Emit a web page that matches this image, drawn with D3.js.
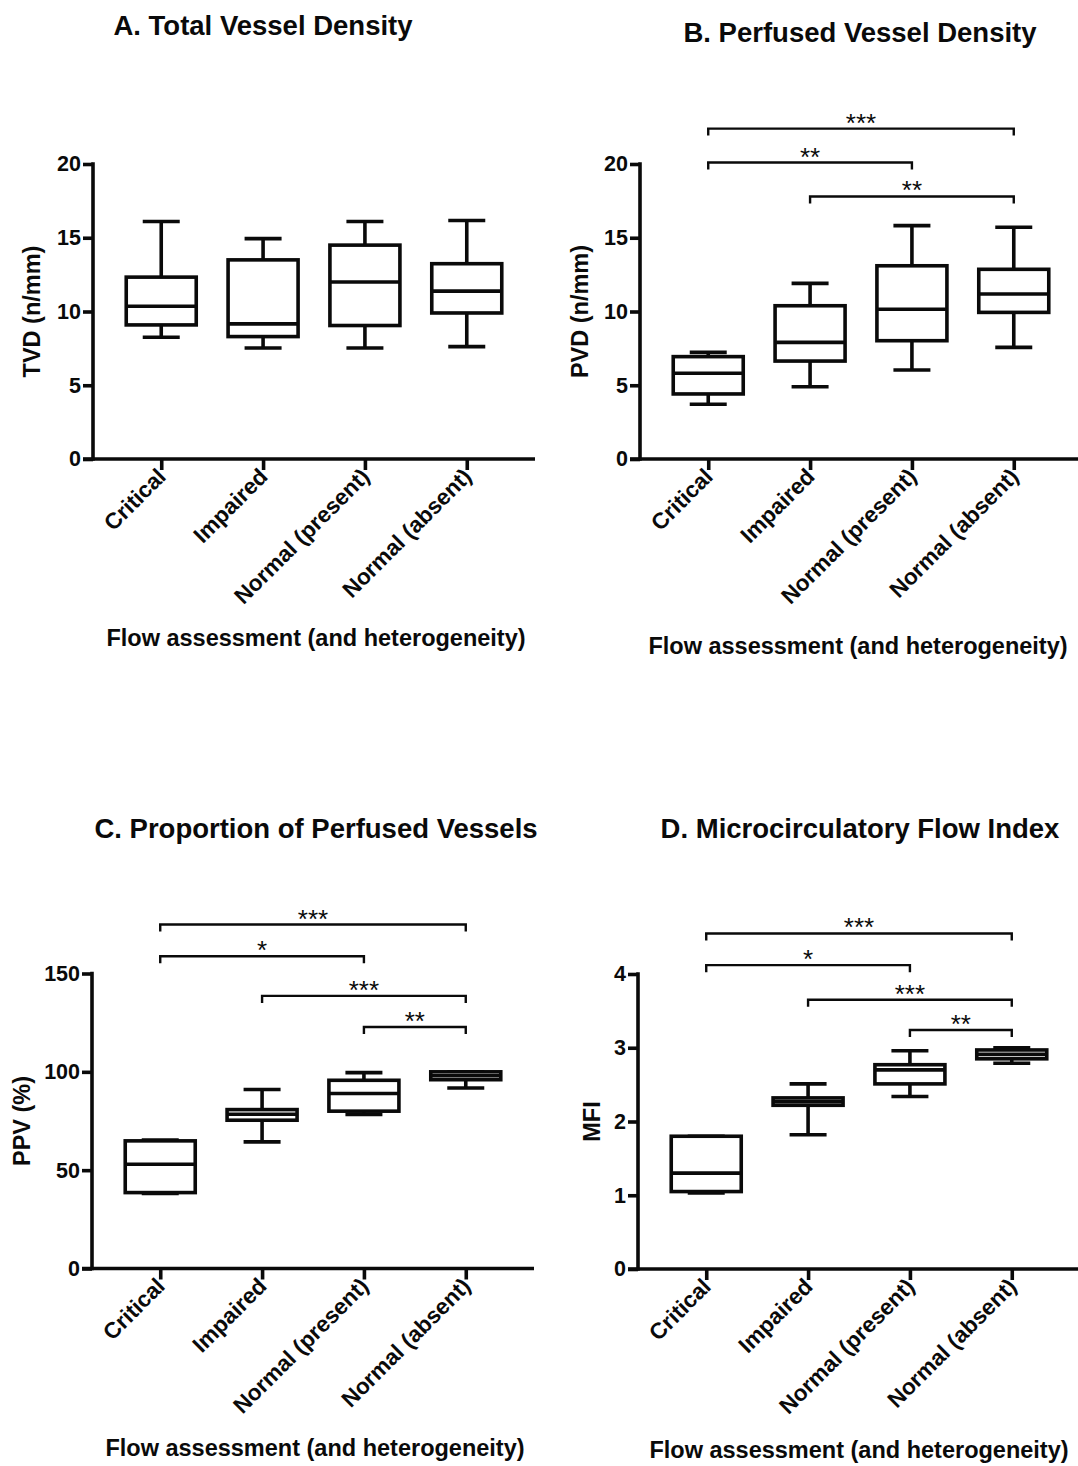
<!DOCTYPE html>
<html>
<head>
<meta charset="utf-8">
<script src="https://cdn.jsdelivr.net/npm/d3@7/dist/d3.min.js"></script>
<style>
  html, body { margin: 0; padding: 0; background: #fff; }
  svg { display: block; font-family: "Liberation Sans", Arial, sans-serif; }
</style>
</head>
<body>
<svg id="chart" width="1078" height="1466"></svg>
<script>
// ---------------- DATA ----------------
const categories = ["Critical", "Impaired", "Normal (present)", "Normal (absent)"];

// [min, Q1, median, Q3, max] per category
const tvdStats = [
  [8.25, 9.09, 10.36, 12.33, 16.1],
  [7.53, 8.3, 9.16, 13.5, 14.94],
  [7.53, 9.05, 12.0, 14.5, 16.1],
  [7.62, 9.9, 11.38, 13.24, 16.17]
];
const pvdStats = [
  [3.71, 4.41, 5.81, 6.94, 7.23],
  [4.9, 6.64, 7.91, 10.39, 11.91],
  [6.03, 8.02, 10.15, 13.1, 15.82],
  [7.57, 9.94, 11.19, 12.86, 15.71]
];
const ppvStats = [
  [38.2, 38.6, 53.0, 64.9, 65.3],
  [64.4, 75.4, 78.4, 80.8, 91.0],
  [78.3, 80.0, 89.0, 95.7, 99.6],
  [91.8, 96.0, 98.0, 100.0, 100.0]
];
const mfiStats = [
  [1.03, 1.05, 1.30, 1.80, 1.80],
  [1.82, 2.22, 2.27, 2.32, 2.51],
  [2.34, 2.51, 2.70, 2.77, 2.96],
  [2.79, 2.85, 2.91, 2.97, 3.0]
];

const tvdTicks = [0, 5, 10, 15, 20];
const pvdTicks = [0, 5, 10, 15, 20];
const ppvTicks = [0, 50, 100, 150];
const mfiTicks = [0, 1, 2, 3, 4];

// significance brackets: [fromIndex, toIndex, level (data units), label]
const tvdSig = [];
const pvdSig = [
  [0, 3, 22.4, "***"],
  [0, 2, 20.1, "**"],
  [1, 3, 17.8, "**"]
];
const ppvSig = [
  [0, 3, 174.9, "***"],
  [0, 2, 158.8, "*"],
  [1, 3, 138.6, "***"],
  [2, 3, 122.8, "**"]
];
const mfiSig = [
  [0, 3, 4.55, "***"],
  [0, 2, 4.12, "*"],
  [1, 3, 3.65, "***"],
  [2, 3, 3.24, "**"]
];

const titles = ["A. Total Vessel Density", "B. Perfused Vessel Density",
                "C. Proportion of Perfused Vessels", "D. Microcirculatory Flow Index"];
const yLabels = ["TVD (n/mm)", "PVD (n/mm)", "PPV (%)", "MFI"];
const xLabel = "Flow assessment (and heterogeneity)";

// ---------------- LAYOUT ----------------
const panels = [
  { stats: tvdStats, ticks: tvdTicks, sig: tvdSig, max: 20,  title: titles[0], yLabel: yLabels[0],
    x0: 93,  yTop: 164,   yBot: 459,   titleX: 263, titleY: 35,  yLabX: 40,  xLabX: 316, xLabY: 646 },
  { stats: pvdStats, ticks: pvdTicks, sig: pvdSig, max: 20,  title: titles[1], yLabel: yLabels[1],
    x0: 640, yTop: 164,   yBot: 459,   titleX: 860, titleY: 42,  yLabX: 588, xLabX: 858, xLabY: 654 },
  { stats: ppvStats, ticks: ppvTicks, sig: ppvSig, max: 150, title: titles[2], yLabel: yLabels[2],
    x0: 92,  yTop: 973.5, yBot: 1268.5, titleX: 316, titleY: 838, yLabX: 30,  xLabX: 315, xLabY: 1456 },
  { stats: mfiStats, ticks: mfiTicks, sig: mfiSig, max: 4,   title: titles[3], yLabel: yLabels[3],
    x0: 638, yTop: 974,   yBot: 1269,  titleX: 860, titleY: 838, yLabX: 600, xLabX: 859, xLabY: 1458 }
];

const svg = d3.select("#chart");
const plotW = 442;
const boxW = 70, capW = 37;
const lw = 3.6;
const ink = "#0a0a0a";

panels.forEach(p => {
  const g = svg.append("g");
  const x = d3.scalePoint().domain(categories).range([p.x0, p.x0 + plotW]).padding(0.67);
  const y = d3.scaleLinear().domain([0, p.max]).range([p.yBot, p.yTop]);

  // title
  g.append("text").attr("x", p.titleX).attr("y", p.titleY)
    .attr("text-anchor", "middle").attr("font-size", 27.5).attr("font-weight", "bold")
    .attr("fill", ink).text(p.title);

  // y axis
  const yAxis = g.append("g").attr("transform", `translate(${p.x0},0)`)
    .call(d3.axisLeft(y).tickValues(p.ticks).tickFormat(d3.format("d"))
      .tickSize(10).tickPadding(2).tickSizeOuter(0));
  yAxis.select(".domain").remove();
  yAxis.selectAll(".tick line").attr("stroke", ink).attr("stroke-width", lw);
  yAxis.selectAll(".tick text").attr("font-size", 21.5).attr("font-weight", "bold")
    .attr("fill", ink).attr("font-family", "Liberation Sans, Arial, sans-serif");
  g.append("line").attr("x1", p.x0).attr("x2", p.x0)
    .attr("y1", p.yTop - lw / 2).attr("y2", p.yBot + lw / 2)
    .attr("stroke", ink).attr("stroke-width", lw);

  // x axis
  const xAxis = g.append("g").attr("transform", `translate(0,${p.yBot})`)
    .call(d3.axisBottom(x).tickSize(11).tickSizeOuter(0).tickFormat(""));
  xAxis.select(".domain").remove();
  xAxis.selectAll(".tick line").attr("stroke", ink).attr("stroke-width", lw);
  g.append("line").attr("x1", p.x0 - 10).attr("x2", p.x0 + plotW)
    .attr("y1", p.yBot).attr("y2", p.yBot)
    .attr("stroke", ink).attr("stroke-width", lw);

  // x tick labels rotated
  g.selectAll(".xlab").data(categories).enter().append("text")
    .attr("transform", d => `translate(${x(d) + 6},${p.yBot + 19}) rotate(-45)`)
    .attr("text-anchor", "end").attr("font-size", 22.5).attr("font-weight", "bold")
    .attr("fill", ink).text(d => d);

  // y label
  g.append("text").attr("transform", `translate(${p.yLabX},${(p.yTop + p.yBot) / 2}) rotate(-90)`)
    .attr("text-anchor", "middle").attr("font-size", 23.5).attr("font-weight", "bold")
    .attr("fill", ink).text(p.yLabel);

  // x label
  g.append("text").attr("x", p.xLabX).attr("y", p.xLabY)
    .attr("text-anchor", "middle").attr("font-size", 23.5).attr("font-weight", "bold")
    .attr("fill", ink).text(xLabel);

  // boxes
  const boxes = g.selectAll(".box").data(p.stats.map((s, i) => ({ s, c: categories[i] })))
    .enter().append("g");
  boxes.each(function (d) {
    const b = d3.select(this);
    const cx = x(d.c);
    const [mn, q1, md, q3, mx] = d.s;
    b.append("line").attr("x1", cx).attr("x2", cx).attr("y1", y(q3)).attr("y2", y(mx))
      .attr("stroke", ink).attr("stroke-width", lw);
    b.append("line").attr("x1", cx).attr("x2", cx).attr("y1", y(q1)).attr("y2", y(mn))
      .attr("stroke", ink).attr("stroke-width", lw);
    b.append("line").attr("x1", cx - capW / 2).attr("x2", cx + capW / 2).attr("y1", y(mx)).attr("y2", y(mx))
      .attr("stroke", ink).attr("stroke-width", lw);
    b.append("line").attr("x1", cx - capW / 2).attr("x2", cx + capW / 2).attr("y1", y(mn)).attr("y2", y(mn))
      .attr("stroke", ink).attr("stroke-width", lw);
    b.append("rect").attr("x", cx - boxW / 2).attr("width", boxW)
      .attr("y", y(q3)).attr("height", y(q1) - y(q3))
      .attr("fill", "#fff").attr("stroke", ink).attr("stroke-width", lw);
    b.append("line").attr("x1", cx - boxW / 2).attr("x2", cx + boxW / 2).attr("y1", y(md)).attr("y2", y(md))
      .attr("stroke", ink).attr("stroke-width", lw);
  });

  // significance brackets
  p.sig.forEach(([a, bI, lvl, lab]) => {
    const xa = x(categories[a]), xb = x(categories[bI]), yy = y(lvl);
    g.append("path")
      .attr("d", `M${xa},${yy + 7}V${yy}H${xb}V${yy + 7}`)
      .attr("fill", "none").attr("stroke", ink).attr("stroke-width", 2.4);
    g.append("text").attr("x", (xa + xb) / 2).attr("y", yy + 3)
      .attr("text-anchor", "middle").attr("font-size", 26).attr("fill", ink).text(lab);
  });
});
</script>
</body>
</html>
